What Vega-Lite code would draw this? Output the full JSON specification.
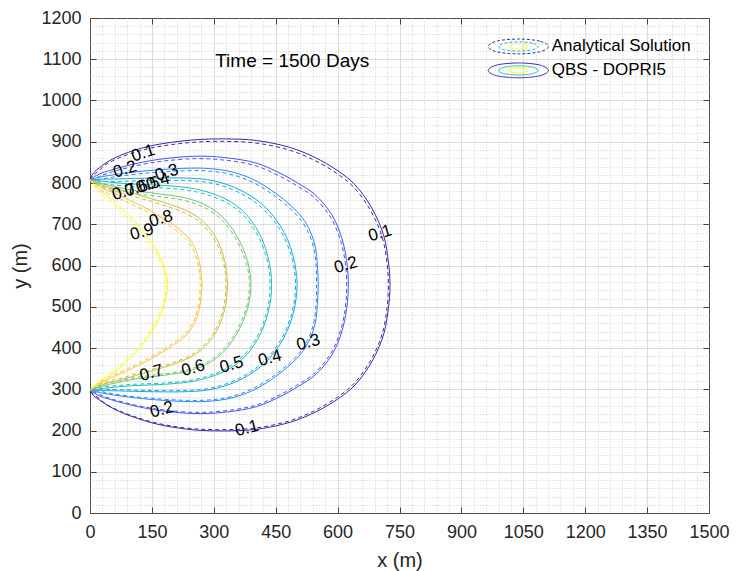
{
  "$schema": "https://vega.github.io/schema/vega-lite/v6.json",
  "width": 619,
  "height": 495,
  "autosize": "none",
  "padding": {"left": 90, "top": 18, "right": 28, "bottom": 58},
  "background": "white",
  "config": {
    "view": {"stroke": "#4d4d4d", "strokeWidth": 1},
    "axis": {"labelFont": "Liberation Sans", "titleFont": "Liberation Sans"},
    "text": {"font": "Liberation Sans"}
  },
  "resolve": {"axis": {"x": "independent", "y": "independent"}},
  "datasets": {
    "contours": [
      {"c":"0.1","i":0,"x":0,"y":808,"xa":0,"ya":808},
      {"c":"0.1","i":1,"x":8,"y":824,"xa":8,"ya":818},
      {"c":"0.1","i":2,"x":23,"y":837,"xa":23,"ya":831},
      {"c":"0.1","i":3,"x":39,"y":849,"xa":36,"ya":843},
      {"c":"0.1","i":4,"x":71,"y":866,"xa":68,"ya":860},
      {"c":"0.1","i":5,"x":110,"y":880,"xa":107,"ya":874},
      {"c":"0.1","i":6,"x":152,"y":891,"xa":149,"ya":885},
      {"c":"0.1","i":7,"x":200,"y":899,"xa":197,"ya":893},
      {"c":"0.1","i":8,"x":257,"y":905,"xa":254,"ya":899},
      {"c":"0.1","i":9,"x":323,"y":907,"xa":320,"ya":901},
      {"c":"0.1","i":10,"x":404,"y":903,"xa":401,"ya":897},
      {"c":"0.1","i":11,"x":485,"y":886,"xa":482,"ya":880},
      {"c":"0.1","i":12,"x":545,"y":862,"xa":542,"ya":856},
      {"c":"0.1","i":13,"x":600,"y":830,"xa":597,"ya":824},
      {"c":"0.1","i":14,"x":642,"y":796,"xa":639,"ya":790},
      {"c":"0.1","i":15,"x":683,"y":739,"xa":680,"ya":733},
      {"c":"0.1","i":16,"x":711,"y":675,"xa":708,"ya":669},
      {"c":"0.1","i":17,"x":723,"y":610,"xa":720,"ya":604},
      {"c":"0.1","i":18,"x":727,"y":553,"xa":723,"ya":553},
      {"c":"0.1","i":19,"x":723,"y":496,"xa":720,"ya":499},
      {"c":"0.1","i":20,"x":711,"y":431,"xa":708,"ya":434},
      {"c":"0.1","i":21,"x":683,"y":367,"xa":680,"ya":370},
      {"c":"0.1","i":22,"x":642,"y":310,"xa":639,"ya":313},
      {"c":"0.1","i":23,"x":600,"y":276,"xa":597,"ya":279},
      {"c":"0.1","i":24,"x":545,"y":244,"xa":542,"ya":247},
      {"c":"0.1","i":25,"x":485,"y":220,"xa":482,"ya":223},
      {"c":"0.1","i":26,"x":404,"y":203,"xa":401,"ya":206},
      {"c":"0.1","i":27,"x":323,"y":199,"xa":320,"ya":202},
      {"c":"0.1","i":28,"x":257,"y":201,"xa":254,"ya":204},
      {"c":"0.1","i":29,"x":200,"y":208,"xa":197,"ya":211},
      {"c":"0.1","i":30,"x":152,"y":218,"xa":149,"ya":221},
      {"c":"0.1","i":31,"x":110,"y":231,"xa":107,"ya":234},
      {"c":"0.1","i":32,"x":71,"y":246,"xa":68,"ya":249},
      {"c":"0.1","i":33,"x":39,"y":263,"xa":36,"ya":266},
      {"c":"0.1","i":34,"x":23,"y":274,"xa":23,"ya":277},
      {"c":"0.1","i":35,"x":8,"y":285,"xa":8,"ya":288},
      {"c":"0.1","i":36,"x":0,"y":298,"xa":0,"ya":298},

      {"c":"0.2","i":0,"x":0,"y":808,"xa":0,"ya":808},
      {"c":"0.2","i":1,"x":10,"y":815,"xa":10,"ya":810},
      {"c":"0.2","i":2,"x":23,"y":822,"xa":23,"ya":816},
      {"c":"0.2","i":3,"x":50,"y":831,"xa":47,"ya":825},
      {"c":"0.2","i":4,"x":82,"y":840,"xa":79,"ya":834},
      {"c":"0.2","i":5,"x":130,"y":851,"xa":127,"ya":845},
      {"c":"0.2","i":6,"x":180,"y":859,"xa":177,"ya":853},
      {"c":"0.2","i":7,"x":257,"y":865,"xa":254,"ya":859},
      {"c":"0.2","i":8,"x":323,"y":862,"xa":320,"ya":856},
      {"c":"0.2","i":9,"x":404,"y":848,"xa":401,"ya":842},
      {"c":"0.2","i":10,"x":468,"y":820,"xa":465,"ya":814},
      {"c":"0.2","i":11,"x":503,"y":800,"xa":500,"ya":794},
      {"c":"0.2","i":12,"x":545,"y":772,"xa":542,"ya":766},
      {"c":"0.2","i":13,"x":586,"y":723,"xa":583,"ya":717},
      {"c":"0.2","i":14,"x":610,"y":667,"xa":607,"ya":661},
      {"c":"0.2","i":15,"x":622,"y":610,"xa":619,"ya":604},
      {"c":"0.2","i":16,"x":626,"y":553,"xa":622,"ya":553},
      {"c":"0.2","i":17,"x":622,"y":496,"xa":619,"ya":499},
      {"c":"0.2","i":18,"x":610,"y":439,"xa":607,"ya":442},
      {"c":"0.2","i":19,"x":586,"y":383,"xa":583,"ya":386},
      {"c":"0.2","i":20,"x":545,"y":334,"xa":542,"ya":337},
      {"c":"0.2","i":21,"x":503,"y":306,"xa":500,"ya":309},
      {"c":"0.2","i":22,"x":468,"y":286,"xa":465,"ya":289},
      {"c":"0.2","i":23,"x":404,"y":258,"xa":401,"ya":261},
      {"c":"0.2","i":24,"x":323,"y":244,"xa":320,"ya":247},
      {"c":"0.2","i":25,"x":257,"y":241,"xa":254,"ya":244},
      {"c":"0.2","i":26,"x":180,"y":247,"xa":177,"ya":250},
      {"c":"0.2","i":27,"x":130,"y":255,"xa":127,"ya":258},
      {"c":"0.2","i":28,"x":82,"y":266,"xa":79,"ya":269},
      {"c":"0.2","i":29,"x":50,"y":275,"xa":47,"ya":278},
      {"c":"0.2","i":30,"x":23,"y":284,"xa":23,"ya":287},
      {"c":"0.2","i":31,"x":10,"y":291,"xa":10,"ya":294},
      {"c":"0.2","i":32,"x":0,"y":298,"xa":0,"ya":298},

      {"c":"0.3","i":0,"x":0,"y":808,"xa":0,"ya":808},
      {"c":"0.3","i":1,"x":23,"y":814,"xa":23,"ya":809},
      {"c":"0.3","i":2,"x":71,"y":822,"xa":68,"ya":816},
      {"c":"0.3","i":3,"x":152,"y":831,"xa":149,"ya":825},
      {"c":"0.3","i":4,"x":242,"y":836,"xa":239,"ya":830},
      {"c":"0.3","i":5,"x":290,"y":835,"xa":287,"ya":829},
      {"c":"0.3","i":6,"x":330,"y":830,"xa":327,"ya":824},
      {"c":"0.3","i":7,"x":370,"y":819,"xa":367,"ya":813},
      {"c":"0.3","i":8,"x":408,"y":802,"xa":405,"ya":796},
      {"c":"0.3","i":9,"x":450,"y":775,"xa":447,"ya":769},
      {"c":"0.3","i":10,"x":487,"y":745,"xa":484,"ya":739},
      {"c":"0.3","i":11,"x":515,"y":715,"xa":512,"ya":709},
      {"c":"0.3","i":12,"x":534,"y":682,"xa":531,"ya":676},
      {"c":"0.3","i":13,"x":546,"y":645,"xa":543,"ya":639},
      {"c":"0.3","i":14,"x":551,"y":600,"xa":548,"ya":596},
      {"c":"0.3","i":15,"x":553,"y":553,"xa":549,"ya":553},
      {"c":"0.3","i":16,"x":551,"y":506,"xa":548,"ya":509},
      {"c":"0.3","i":17,"x":546,"y":461,"xa":543,"ya":464},
      {"c":"0.3","i":18,"x":534,"y":424,"xa":531,"ya":427},
      {"c":"0.3","i":19,"x":515,"y":391,"xa":512,"ya":394},
      {"c":"0.3","i":20,"x":487,"y":361,"xa":484,"ya":364},
      {"c":"0.3","i":21,"x":450,"y":331,"xa":447,"ya":334},
      {"c":"0.3","i":22,"x":408,"y":304,"xa":405,"ya":307},
      {"c":"0.3","i":23,"x":370,"y":287,"xa":367,"ya":290},
      {"c":"0.3","i":24,"x":330,"y":276,"xa":327,"ya":279},
      {"c":"0.3","i":25,"x":290,"y":271,"xa":287,"ya":274},
      {"c":"0.3","i":26,"x":242,"y":270,"xa":239,"ya":273},
      {"c":"0.3","i":27,"x":152,"y":275,"xa":149,"ya":278},
      {"c":"0.3","i":28,"x":71,"y":284,"xa":68,"ya":287},
      {"c":"0.3","i":29,"x":23,"y":292,"xa":23,"ya":295},
      {"c":"0.3","i":30,"x":0,"y":298,"xa":0,"ya":298},

      {"c":"0.4","i":0,"x":0,"y":808,"xa":0,"ya":808},
      {"c":"0.4","i":1,"x":30,"y":809,"xa":30,"ya":804},
      {"c":"0.4","i":2,"x":71,"y":810,"xa":68,"ya":804},
      {"c":"0.4","i":3,"x":152,"y":812,"xa":149,"ya":806},
      {"c":"0.4","i":4,"x":230,"y":812,"xa":227,"ya":806},
      {"c":"0.4","i":5,"x":285,"y":808,"xa":282,"ya":802},
      {"c":"0.4","i":6,"x":330,"y":797,"xa":327,"ya":791},
      {"c":"0.4","i":7,"x":370,"y":780,"xa":367,"ya":774},
      {"c":"0.4","i":8,"x":405,"y":758,"xa":402,"ya":752},
      {"c":"0.4","i":9,"x":435,"y":731,"xa":432,"ya":725},
      {"c":"0.4","i":10,"x":460,"y":698,"xa":457,"ya":692},
      {"c":"0.4","i":11,"x":479,"y":662,"xa":476,"ya":656},
      {"c":"0.4","i":12,"x":492,"y":624,"xa":489,"ya":619},
      {"c":"0.4","i":13,"x":499,"y":589,"xa":496,"ya":585},
      {"c":"0.4","i":14,"x":502,"y":553,"xa":498,"ya":553},
      {"c":"0.4","i":15,"x":499,"y":517,"xa":496,"ya":520},
      {"c":"0.4","i":16,"x":492,"y":482,"xa":489,"ya":485},
      {"c":"0.4","i":17,"x":479,"y":444,"xa":476,"ya":447},
      {"c":"0.4","i":18,"x":460,"y":408,"xa":457,"ya":411},
      {"c":"0.4","i":19,"x":435,"y":375,"xa":432,"ya":378},
      {"c":"0.4","i":20,"x":405,"y":348,"xa":402,"ya":351},
      {"c":"0.4","i":21,"x":370,"y":326,"xa":367,"ya":329},
      {"c":"0.4","i":22,"x":330,"y":309,"xa":327,"ya":312},
      {"c":"0.4","i":23,"x":285,"y":298,"xa":282,"ya":301},
      {"c":"0.4","i":24,"x":230,"y":294,"xa":227,"ya":297},
      {"c":"0.4","i":25,"x":152,"y":294,"xa":149,"ya":297},
      {"c":"0.4","i":26,"x":71,"y":296,"xa":68,"ya":299},
      {"c":"0.4","i":27,"x":30,"y":297,"xa":30,"ya":300},
      {"c":"0.4","i":28,"x":0,"y":298,"xa":0,"ya":298},

      {"c":"0.5","i":0,"x":0,"y":808,"xa":0,"ya":808},
      {"c":"0.5","i":1,"x":31,"y":804,"xa":28,"ya":799},
      {"c":"0.5","i":2,"x":71,"y":800,"xa":68,"ya":794},
      {"c":"0.5","i":3,"x":111,"y":797,"xa":108,"ya":791},
      {"c":"0.5","i":4,"x":180,"y":794,"xa":177,"ya":788},
      {"c":"0.5","i":5,"x":242,"y":788,"xa":239,"ya":782},
      {"c":"0.5","i":6,"x":285,"y":778,"xa":282,"ya":772},
      {"c":"0.5","i":7,"x":323,"y":764,"xa":320,"ya":758},
      {"c":"0.5","i":8,"x":355,"y":745,"xa":352,"ya":739},
      {"c":"0.5","i":9,"x":381,"y":721,"xa":378,"ya":715},
      {"c":"0.5","i":10,"x":402,"y":692,"xa":399,"ya":686},
      {"c":"0.5","i":11,"x":419,"y":659,"xa":416,"ya":653},
      {"c":"0.5","i":12,"x":431,"y":622,"xa":428,"ya":617},
      {"c":"0.5","i":13,"x":438,"y":587,"xa":435,"ya":583},
      {"c":"0.5","i":14,"x":440,"y":553,"xa":436,"ya":553},
      {"c":"0.5","i":15,"x":438,"y":519,"xa":435,"ya":522},
      {"c":"0.5","i":16,"x":431,"y":484,"xa":428,"ya":487},
      {"c":"0.5","i":17,"x":419,"y":447,"xa":416,"ya":450},
      {"c":"0.5","i":18,"x":402,"y":414,"xa":399,"ya":417},
      {"c":"0.5","i":19,"x":381,"y":385,"xa":378,"ya":388},
      {"c":"0.5","i":20,"x":355,"y":361,"xa":352,"ya":364},
      {"c":"0.5","i":21,"x":323,"y":342,"xa":320,"ya":345},
      {"c":"0.5","i":22,"x":285,"y":328,"xa":282,"ya":331},
      {"c":"0.5","i":23,"x":242,"y":318,"xa":239,"ya":321},
      {"c":"0.5","i":24,"x":180,"y":312,"xa":177,"ya":315},
      {"c":"0.5","i":25,"x":111,"y":309,"xa":108,"ya":312},
      {"c":"0.5","i":26,"x":71,"y":306,"xa":68,"ya":309},
      {"c":"0.5","i":27,"x":31,"y":302,"xa":28,"ya":305},
      {"c":"0.5","i":28,"x":0,"y":298,"xa":0,"ya":298},

      {"c":"0.6","i":0,"x":0,"y":808,"xa":0,"ya":808},
      {"c":"0.6","i":1,"x":20,"y":801,"xa":20,"ya":796},
      {"c":"0.6","i":2,"x":39,"y":796,"xa":36,"ya":790},
      {"c":"0.6","i":3,"x":75,"y":788,"xa":72,"ya":782},
      {"c":"0.6","i":4,"x":111,"y":781,"xa":108,"ya":775},
      {"c":"0.6","i":5,"x":180,"y":772,"xa":177,"ya":766},
      {"c":"0.6","i":6,"x":235,"y":763,"xa":232,"ya":757},
      {"c":"0.6","i":7,"x":275,"y":749,"xa":272,"ya":743},
      {"c":"0.6","i":8,"x":307,"y":730,"xa":304,"ya":724},
      {"c":"0.6","i":9,"x":333,"y":705,"xa":330,"ya":699},
      {"c":"0.6","i":10,"x":354,"y":675,"xa":351,"ya":669},
      {"c":"0.6","i":11,"x":370,"y":643,"xa":367,"ya":637},
      {"c":"0.6","i":12,"x":382,"y":610,"xa":379,"ya":605},
      {"c":"0.6","i":13,"x":388,"y":580,"xa":385,"ya":576},
      {"c":"0.6","i":14,"x":390,"y":553,"xa":386,"ya":553},
      {"c":"0.6","i":15,"x":388,"y":526,"xa":385,"ya":529},
      {"c":"0.6","i":16,"x":382,"y":496,"xa":379,"ya":499},
      {"c":"0.6","i":17,"x":370,"y":463,"xa":367,"ya":466},
      {"c":"0.6","i":18,"x":354,"y":431,"xa":351,"ya":434},
      {"c":"0.6","i":19,"x":333,"y":401,"xa":330,"ya":404},
      {"c":"0.6","i":20,"x":307,"y":376,"xa":304,"ya":379},
      {"c":"0.6","i":21,"x":275,"y":357,"xa":272,"ya":360},
      {"c":"0.6","i":22,"x":235,"y":343,"xa":232,"ya":346},
      {"c":"0.6","i":23,"x":180,"y":334,"xa":177,"ya":337},
      {"c":"0.6","i":24,"x":111,"y":325,"xa":108,"ya":328},
      {"c":"0.6","i":25,"x":75,"y":318,"xa":72,"ya":321},
      {"c":"0.6","i":26,"x":39,"y":310,"xa":36,"ya":313},
      {"c":"0.6","i":27,"x":20,"y":305,"xa":20,"ya":308},
      {"c":"0.6","i":28,"x":0,"y":298,"xa":0,"ya":298},

      {"c":"0.7","i":0,"x":0,"y":808,"xa":0,"ya":808},
      {"c":"0.7","i":1,"x":23,"y":797,"xa":23,"ya":792},
      {"c":"0.7","i":2,"x":50,"y":789,"xa":47,"ya":783},
      {"c":"0.7","i":3,"x":75,"y":783,"xa":72,"ya":777},
      {"c":"0.7","i":4,"x":110,"y":773,"xa":107,"ya":767},
      {"c":"0.7","i":5,"x":152,"y":761,"xa":149,"ya":755},
      {"c":"0.7","i":6,"x":200,"y":746,"xa":197,"ya":740},
      {"c":"0.7","i":7,"x":240,"y":730,"xa":237,"ya":724},
      {"c":"0.7","i":8,"x":268,"y":712,"xa":265,"ya":706},
      {"c":"0.7","i":9,"x":290,"y":690,"xa":287,"ya":684},
      {"c":"0.7","i":10,"x":306,"y":666,"xa":303,"ya":660},
      {"c":"0.7","i":11,"x":318,"y":640,"xa":315,"ya":635},
      {"c":"0.7","i":12,"x":326,"y":613,"xa":323,"ya":609},
      {"c":"0.7","i":13,"x":331,"y":584,"xa":328,"ya":581},
      {"c":"0.7","i":14,"x":333,"y":553,"xa":329,"ya":553},
      {"c":"0.7","i":15,"x":331,"y":522,"xa":328,"ya":525},
      {"c":"0.7","i":16,"x":326,"y":493,"xa":323,"ya":496},
      {"c":"0.7","i":17,"x":318,"y":466,"xa":315,"ya":469},
      {"c":"0.7","i":18,"x":306,"y":440,"xa":303,"ya":443},
      {"c":"0.7","i":19,"x":290,"y":416,"xa":287,"ya":419},
      {"c":"0.7","i":20,"x":268,"y":394,"xa":265,"ya":397},
      {"c":"0.7","i":21,"x":240,"y":376,"xa":237,"ya":379},
      {"c":"0.7","i":22,"x":200,"y":360,"xa":197,"ya":363},
      {"c":"0.7","i":23,"x":152,"y":345,"xa":149,"ya":348},
      {"c":"0.7","i":24,"x":110,"y":333,"xa":107,"ya":336},
      {"c":"0.7","i":25,"x":75,"y":323,"xa":72,"ya":326},
      {"c":"0.7","i":26,"x":50,"y":317,"xa":47,"ya":320},
      {"c":"0.7","i":27,"x":23,"y":309,"xa":23,"ya":312},
      {"c":"0.7","i":28,"x":0,"y":298,"xa":0,"ya":298},

      {"c":"0.8","i":0,"x":0,"y":808,"xa":0,"ya":808},
      {"c":"0.8","i":1,"x":20,"y":794,"xa":20,"ya":789},
      {"c":"0.8","i":2,"x":39,"y":784,"xa":36,"ya":778},
      {"c":"0.8","i":3,"x":75,"y":768,"xa":72,"ya":762},
      {"c":"0.8","i":4,"x":111,"y":751,"xa":108,"ya":745},
      {"c":"0.8","i":5,"x":145,"y":734,"xa":142,"ya":728},
      {"c":"0.8","i":6,"x":175,"y":715,"xa":172,"ya":709},
      {"c":"0.8","i":7,"x":202,"y":698,"xa":199,"ya":692},
      {"c":"0.8","i":8,"x":225,"y":681,"xa":222,"ya":675},
      {"c":"0.8","i":9,"x":243,"y":662,"xa":240,"ya":656},
      {"c":"0.8","i":10,"x":256,"y":638,"xa":253,"ya":632},
      {"c":"0.8","i":11,"x":264,"y":613,"xa":261,"ya":608},
      {"c":"0.8","i":12,"x":269,"y":584,"xa":266,"ya":580},
      {"c":"0.8","i":13,"x":271,"y":553,"xa":267,"ya":553},
      {"c":"0.8","i":14,"x":269,"y":522,"xa":266,"ya":525},
      {"c":"0.8","i":15,"x":264,"y":492,"xa":261,"ya":495},
      {"c":"0.8","i":16,"x":256,"y":466,"xa":253,"ya":469},
      {"c":"0.8","i":17,"x":243,"y":443,"xa":240,"ya":446},
      {"c":"0.8","i":18,"x":225,"y":424,"xa":222,"ya":427},
      {"c":"0.8","i":19,"x":202,"y":407,"xa":199,"ya":410},
      {"c":"0.8","i":20,"x":175,"y":390,"xa":172,"ya":393},
      {"c":"0.8","i":21,"x":145,"y":372,"xa":142,"ya":375},
      {"c":"0.8","i":22,"x":111,"y":355,"xa":108,"ya":358},
      {"c":"0.8","i":23,"x":75,"y":338,"xa":72,"ya":341},
      {"c":"0.8","i":24,"x":39,"y":322,"xa":36,"ya":325},
      {"c":"0.8","i":25,"x":20,"y":312,"xa":20,"ya":315},
      {"c":"0.8","i":26,"x":0,"y":298,"xa":0,"ya":298},

      {"c":"0.9","i":0,"x":0,"y":808,"xa":0,"ya":808},
      {"c":"0.9","i":1,"x":15,"y":791,"xa":15,"ya":786},
      {"c":"0.9","i":2,"x":39,"y":771,"xa":36,"ya":765},
      {"c":"0.9","i":3,"x":65,"y":749,"xa":62,"ya":743},
      {"c":"0.9","i":4,"x":88,"y":727,"xa":85,"ya":721},
      {"c":"0.9","i":5,"x":110,"y":705,"xa":107,"ya":699},
      {"c":"0.9","i":6,"x":129,"y":683,"xa":126,"ya":677},
      {"c":"0.9","i":7,"x":147,"y":660,"xa":144,"ya":654},
      {"c":"0.9","i":8,"x":162,"y":636,"xa":159,"ya":631},
      {"c":"0.9","i":9,"x":174,"y":611,"xa":171,"ya":607},
      {"c":"0.9","i":10,"x":182,"y":587,"xa":179,"ya":584},
      {"c":"0.9","i":11,"x":187,"y":568,"xa":184,"ya":566},
      {"c":"0.9","i":12,"x":188,"y":553,"xa":184,"ya":553},
      {"c":"0.9","i":13,"x":187,"y":536,"xa":184,"ya":539},
      {"c":"0.9","i":14,"x":182,"y":512,"xa":179,"ya":515},
      {"c":"0.9","i":15,"x":173,"y":484,"xa":170,"ya":487},
      {"c":"0.9","i":16,"x":160,"y":456,"xa":157,"ya":459},
      {"c":"0.9","i":17,"x":144,"y":430,"xa":141,"ya":433},
      {"c":"0.9","i":18,"x":125,"y":405,"xa":122,"ya":408},
      {"c":"0.9","i":19,"x":104,"y":382,"xa":101,"ya":385},
      {"c":"0.9","i":20,"x":82,"y":360,"xa":79,"ya":363},
      {"c":"0.9","i":21,"x":58,"y":340,"xa":55,"ya":343},
      {"c":"0.9","i":22,"x":33,"y":322,"xa":30,"ya":325},
      {"c":"0.9","i":23,"x":13,"y":308,"xa":13,"ya":311},
      {"c":"0.9","i":24,"x":0,"y":298,"xa":0,"ya":298}
    ],
    "labels": [
      {"k":"t1","t":"0.1","x":129,"y":872},
      {"k":"t2","t":"0.2","x":85,"y":833},
      {"k":"t3","t":"0.3","x":186,"y":825},
      {"k":"t4","t":"0.4","x":165,"y":803},
      {"k":"t5","t":"0.5","x":140,"y":795},
      {"k":"t6","t":"0.6","x":112,"y":787},
      {"k":"t7","t":"0.7","x":82,"y":778},
      {"k":"t8","t":"0.8","x":172,"y":713},
      {"k":"t9","t":"0.9","x":126,"y":681},
      {"k":"r1","t":"0.1","x":703,"y":678},
      {"k":"r2","t":"0.2","x":620,"y":601},
      {"k":"b7","t":"0.7","x":149,"y":339},
      {"k":"b6","t":"0.6","x":250,"y":351},
      {"k":"b5","t":"0.5","x":343,"y":359},
      {"k":"b4","t":"0.4","x":436,"y":375},
      {"k":"b3","t":"0.3","x":529,"y":413},
      {"k":"b2","t":"0.2","x":174,"y":250},
      {"k":"b1","t":"0.1","x":380,"y":205}
    ],
    "legendicons": [
      {"m":"A","c":"0.1","i":0,"x":1111,"y":1131},
      {"m":"A","c":"0.1","i":1,"x":1090,"y":1144},
      {"m":"A","c":"0.1","i":2,"x":1038,"y":1149},
      {"m":"A","c":"0.1","i":3,"x":986,"y":1144},
      {"m":"A","c":"0.1","i":4,"x":965,"y":1131},
      {"m":"A","c":"0.1","i":5,"x":986,"y":1118},
      {"m":"A","c":"0.1","i":6,"x":1038,"y":1113},
      {"m":"A","c":"0.1","i":7,"x":1090,"y":1118},
      {"m":"A","c":"0.5","i":0,"x":1086,"y":1131},
      {"m":"A","c":"0.5","i":1,"x":1072,"y":1139},
      {"m":"A","c":"0.5","i":2,"x":1038,"y":1142},
      {"m":"A","c":"0.5","i":3,"x":1004,"y":1139},
      {"m":"A","c":"0.5","i":4,"x":990,"y":1131},
      {"m":"A","c":"0.5","i":5,"x":1004,"y":1123},
      {"m":"A","c":"0.5","i":6,"x":1038,"y":1120},
      {"m":"A","c":"0.5","i":7,"x":1072,"y":1123},
      {"m":"A","c":"0.9","i":0,"x":1062,"y":1131},
      {"m":"A","c":"0.9","i":1,"x":1055,"y":1135},
      {"m":"A","c":"0.9","i":2,"x":1038,"y":1137},
      {"m":"A","c":"0.9","i":3,"x":1021,"y":1135},
      {"m":"A","c":"0.9","i":4,"x":1014,"y":1131},
      {"m":"A","c":"0.9","i":5,"x":1021,"y":1127},
      {"m":"A","c":"0.9","i":6,"x":1038,"y":1125},
      {"m":"A","c":"0.9","i":7,"x":1055,"y":1127},
      {"m":"Q","c":"0.1","i":0,"x":1111,"y":1073},
      {"m":"Q","c":"0.1","i":1,"x":1090,"y":1086},
      {"m":"Q","c":"0.1","i":2,"x":1038,"y":1091},
      {"m":"Q","c":"0.1","i":3,"x":986,"y":1086},
      {"m":"Q","c":"0.1","i":4,"x":965,"y":1073},
      {"m":"Q","c":"0.1","i":5,"x":986,"y":1060},
      {"m":"Q","c":"0.1","i":6,"x":1038,"y":1055},
      {"m":"Q","c":"0.1","i":7,"x":1090,"y":1060},
      {"m":"Q","c":"0.5","i":0,"x":1086,"y":1073},
      {"m":"Q","c":"0.5","i":1,"x":1072,"y":1081},
      {"m":"Q","c":"0.5","i":2,"x":1038,"y":1084},
      {"m":"Q","c":"0.5","i":3,"x":1004,"y":1081},
      {"m":"Q","c":"0.5","i":4,"x":990,"y":1073},
      {"m":"Q","c":"0.5","i":5,"x":1004,"y":1065},
      {"m":"Q","c":"0.5","i":6,"x":1038,"y":1062},
      {"m":"Q","c":"0.5","i":7,"x":1072,"y":1065},
      {"m":"Q","c":"0.9","i":0,"x":1062,"y":1073},
      {"m":"Q","c":"0.9","i":1,"x":1055,"y":1077},
      {"m":"Q","c":"0.9","i":2,"x":1038,"y":1079},
      {"m":"Q","c":"0.9","i":3,"x":1021,"y":1077},
      {"m":"Q","c":"0.9","i":4,"x":1014,"y":1073},
      {"m":"Q","c":"0.9","i":5,"x":1021,"y":1069},
      {"m":"Q","c":"0.9","i":6,"x":1038,"y":1067},
      {"m":"Q","c":"0.9","i":7,"x":1055,"y":1069}
    ],
    "legendtext": [
      {"t":"Analytical Solution","x":1119,"y":1132},
      {"t":"QBS - DOPRI5","x":1119,"y":1073}
    ],
    "note": [
      {"t":"Time = 1500 Days","x":490,"y":1096}
    ]
  },
  "layer": [
    {
      "data": {"name": "contours"},
      "mark": {"type": "line", "strokeWidth": 1, "strokeDash": [4, 3], "interpolate": "catmull-rom"},
      "encoding": {
        "x": {"field": "xa", "type": "quantitative",
          "scale": {"domain": [0, 1500], "nice": false, "zero": false},
          "axis": {"orient": "bottom", "title": null, "labels": false, "ticks": false, "domain": false,
            "grid": true, "gridColor": "#c2c2c2", "gridDash": [1, 2], "gridWidth": 0.8,
            "values": [30,60,90,120,180,210,240,270,330,360,390,420,480,510,540,570,630,660,690,720,780,810,840,870,930,960,990,1020,1080,1110,1140,1170,1230,1260,1290,1320,1380,1410,1440,1470]}},
        "y": {"field": "ya", "type": "quantitative",
          "scale": {"domain": [0, 1200], "nice": false, "zero": false},
          "axis": {"orient": "left", "title": null, "labels": false, "ticks": false, "domain": false,
            "grid": true, "gridColor": "#c2c2c2", "gridDash": [1, 2], "gridWidth": 0.8,
            "values": [20,40,60,80,120,140,160,180,220,240,260,280,320,340,360,380,420,440,460,480,520,540,560,580,620,640,660,680,720,740,760,780,820,840,860,880,920,940,960,980,1020,1040,1060,1080,1120,1140,1160,1180]}},
        "color": {"field": "c", "type": "nominal", "legend": null,
          "scale": {"domain": ["0.1","0.2","0.3","0.4","0.5","0.6","0.7","0.8","0.9"],
            "range": ["#3e26a8","#4752ee","#2c85f0","#14a9dc","#1ebdb9","#6cc66f","#cbbb3c","#fcc03a","#f9fb15"]}},
        "order": {"field": "i", "type": "quantitative"}
      }
    },
    {
      "data": {"name": "contours"},
      "mark": {"type": "line", "strokeWidth": 1, "interpolate": "catmull-rom"},
      "encoding": {
        "x": {"field": "x", "type": "quantitative",
          "scale": {"domain": [0, 1500], "nice": false, "zero": false},
          "axis": {"orient": "bottom", "title": null, "labels": false, "ticks": true, "tickSize": -6, "tickColor": "#404040", "domain": false,
            "grid": true, "gridColor": "#dcdcdc", "gridWidth": 1,
            "values": [150,300,450,600,750,900,1050,1200,1350]}},
        "y": {"field": "y", "type": "quantitative",
          "scale": {"domain": [0, 1200], "nice": false, "zero": false},
          "axis": {"orient": "left", "title": null, "labels": false, "ticks": true, "tickSize": -6, "tickColor": "#404040", "domain": false,
            "grid": true, "gridColor": "#dcdcdc", "gridWidth": 1,
            "values": [100,200,300,400,500,600,700,800,900,1000,1100]}},
        "color": {"field": "c", "type": "nominal", "legend": null,
          "scale": {"domain": ["0.1","0.2","0.3","0.4","0.5","0.6","0.7","0.8","0.9"],
            "range": ["#3e26a8","#4752ee","#2c85f0","#14a9dc","#1ebdb9","#6cc66f","#cbbb3c","#fcc03a","#f9fb15"]}},
        "order": {"field": "i", "type": "quantitative"}
      }
    },
    {
      "data": {"name": "labels"},
      "mark": {"type": "text", "fontSize": 17, "font": "Liberation Sans", "color": "#000000", "align": "center", "baseline": "middle"},
      "encoding": {
        "x": {"field": "x", "type": "quantitative",
          "scale": {"domain": [0, 1500], "nice": false, "zero": false},
          "axis": {"orient": "bottom", "title": "x (m)", "titleFontSize": 20, "titleFontWeight": "normal", "titleColor": "#262626", "titlePadding": 9,
            "labels": true, "labelFontSize": 18, "labelColor": "#262626", "labelPadding": 10, "labelFlush": false, "labelOverlap": false, "format": "d",
            "ticks": false, "domain": false, "grid": false,
            "values": [0,150,300,450,600,750,900,1050,1200,1350,1500]}},
        "y": {"field": "y", "type": "quantitative",
          "scale": {"domain": [0, 1200], "nice": false, "zero": false},
          "axis": {"orient": "left", "title": "y (m)", "titleFontSize": 20, "titleFontWeight": "normal", "titleColor": "#262626", "titlePadding": 10,
            "labels": true, "labelFontSize": 18, "labelColor": "#262626", "labelPadding": 9, "labelFlush": false, "labelOverlap": false, "format": "d",
            "ticks": false, "domain": false, "grid": false,
            "values": [0,100,200,300,400,500,600,700,800,900,1000,1100,1200]}},
        "text": {"field": "t", "type": "nominal"},
        "angle": {"field": "k", "type": "nominal", "legend": null,
          "scale": {"domain": ["t1","t2","t3","t4","t5","t6","t7","t8","t9","r1","r2","b7","b6","b5","b4","b3","b2","b1"],
            "range": [-18,-15,-8,5,15,20,25,35,52,65,85,-12,-12,-20,-32,-55,8,-3]}}
      }
    },
    {
      "data": {"name": "legendicons"},
      "mark": {"type": "line", "strokeWidth": 1, "interpolate": "cardinal-closed"},
      "encoding": {
        "x": {"field": "x", "type": "quantitative",
          "scale": {"domain": [0, 1500], "nice": false, "zero": false},
          "axis": {"orient": "top", "title": null, "labels": false, "ticks": true, "tickSize": -6, "tickColor": "#404040", "domain": false, "grid": false,
            "values": [150,300,450,600,750,900,1050,1200,1350]}},
        "y": {"field": "y", "type": "quantitative",
          "scale": {"domain": [0, 1200], "nice": false, "zero": false},
          "axis": {"orient": "right", "title": null, "labels": false, "ticks": true, "tickSize": -6, "tickColor": "#404040", "domain": false, "grid": false,
            "values": [100,200,300,400,500,600,700,800,900,1000,1100]}},
        "color": {"field": "c", "type": "nominal", "legend": null,
          "scale": {"domain": ["0.1","0.2","0.3","0.4","0.5","0.6","0.7","0.8","0.9"],
            "range": ["#3e26a8","#4752ee","#2c85f0","#14a9dc","#1ebdb9","#6cc66f","#cbbb3c","#fcc03a","#f9fb15"]}},
        "strokeDash": {"field": "m", "type": "nominal", "legend": null,
          "scale": {"domain": ["A","Q"], "range": [[3,2],[1,0]]}},
        "order": {"field": "i", "type": "quantitative"}
      }
    },
    {
      "data": {"name": "legendtext"},
      "mark": {"type": "text", "fontSize": 17, "font": "Liberation Sans", "color": "#000000", "align": "left", "baseline": "middle"},
      "encoding": {
        "x": {"field": "x", "type": "quantitative", "axis": null},
        "y": {"field": "y", "type": "quantitative", "axis": null},
        "text": {"field": "t", "type": "nominal"}
      }
    },
    {
      "data": {"name": "note"},
      "mark": {"type": "text", "fontSize": 19, "font": "Liberation Sans", "color": "#000000", "align": "center", "baseline": "middle"},
      "encoding": {
        "x": {"field": "x", "type": "quantitative", "axis": null},
        "y": {"field": "y", "type": "quantitative", "axis": null},
        "text": {"field": "t", "type": "nominal"}
      }
    }
  ]
}
